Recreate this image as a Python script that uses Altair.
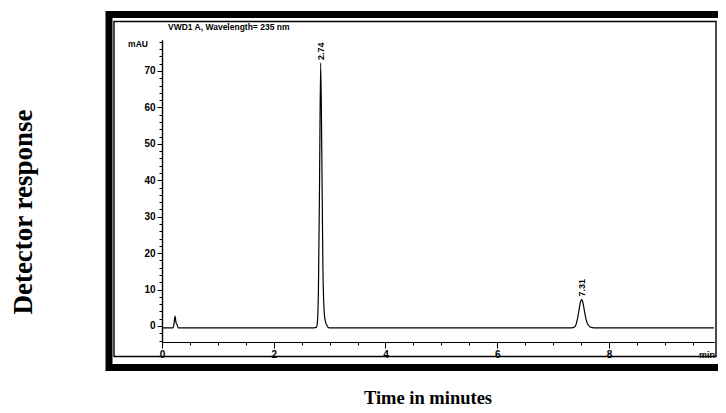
import altair as alt
import pandas as pd

# ---- data ----
time_min = [0.0, 0.19, 0.215, 0.233, 0.25, 0.27, 0.29,
            2.72, 2.76, 2.78, 2.80, 2.82, 2.84, 2.86, 2.88, 2.90, 2.92, 2.95, 2.99,
            7.33, 7.39, 7.43, 7.46, 7.49, 7.51, 7.53, 7.56, 7.59, 7.63, 7.68, 7.73,
            9.88]
signal_mau = [-0.5, -0.5, 0.6, 2.7, 1.0, 0.3, -0.5,
              -0.5, -0.4, 0.8, 10, 40, 72.2, 48, 16, 4.5, 1.5, 0.2, -0.5,
              -0.5, -0.2, 1.5, 4.0, 6.6, 7.25, 6.7, 4.2, 1.8, 0.2, -0.4, -0.5,
              -0.5]

peak_time = [2.84, 7.51]
peak_height = [72.2, 7.25]
peak_label = ["2.74", "7.31"]

x_minor_ticks = [i * 0.5 for i in range(20)]
x_major_ticks = [0, 2, 4, 6, 8]
y_minor_ticks = list(range(-4, 79, 2))
y_major_ticks = [0, 10, 20, 30, 40, 50, 60, 70]

header = "VWD1 A, Wavelength= 235 nm"
y_title = "Detector response"
x_title = "Time in minutes"

trace = pd.DataFrame({"t": time_min, "v": signal_mau})
peaks = pd.DataFrame({"t": peak_time, "v": peak_height, "lab": peak_label})
one = pd.DataFrame({"a": [0]})

W, H = 552, 302
AX_FONT = "Liberation Sans"
SERIF = "Liberation Serif"

xscale = alt.Scale(domain=[0, 9.88], nice=False, zero=False)
yscale = alt.Scale(domain=[-4.4, 78.5], nice=False, zero=False)

common = dict(grid=False, labelFlush=False, labelOverlap=False, labelFont=AX_FONT,
              labelFontWeight="bold", labelFontSize=10, labelColor="black",
              domainColor="black", domainWidth=1.2, tickColor="black", tickWidth=1)

x_minor = alt.Axis(values=x_minor_ticks, tickSize=3, labels=False, orient="bottom", **common)
y_minor = alt.Axis(values=y_minor_ticks, tickSize=3, labels=False, orient="left", **common)
x_major = alt.Axis(values=x_major_ticks, tickSize=6, labelPadding=1, format="d",
                   orient="bottom", **common)
y_major = alt.Axis(values=y_major_ticks, tickSize=5, labelPadding=2, format="d",
                   orient="left", **common)

line = alt.Chart(trace).mark_line(color="black", strokeWidth=1.2, interpolate="monotone").encode(
    x=alt.X("t:Q", scale=xscale, axis=x_minor, title=None),
    y=alt.Y("v:Q", scale=yscale, axis=y_minor, title=None),
)
major = alt.Chart(trace).mark_line(opacity=0).encode(
    x=alt.X("t:Q", scale=xscale, axis=x_major, title=None),
    y=alt.Y("v:Q", scale=yscale, axis=y_major, title=None),
)

labels = alt.Chart(peaks).mark_text(
    angle=270, align="left", baseline="middle", dx=3,
    font=AX_FONT, fontWeight="bold", fontSize=9, color="black",
).encode(
    x=alt.X("t:Q", scale=xscale, axis=None),
    y=alt.Y("v:Q", scale=yscale, axis=None),
    text="lab:N",
)

outer = alt.Chart(one).mark_rect(filled=False, stroke="black", strokeWidth=7).encode(
    x=alt.value(-53), x2=alt.value(580), y=alt.value(-25.5), y2=alt.value(327.5)
)
inner = alt.Chart(one).mark_rect(filled=False, stroke="black", strokeWidth=1.4).encode(
    x=alt.value(-48), x2=alt.value(554), y=alt.value(-18.5), y2=alt.value(316.5)
)

def txt(s, x, y, **kw):
    return alt.Chart(pd.DataFrame({"s": [s]})).mark_text(color="black", **kw).encode(
        x=alt.value(x), y=alt.value(y), text="s:N"
    )

t_header = txt(header, 6, -13, align="left", baseline="middle", font=AX_FONT,
               fontWeight="bold", fontSize=8.5)
t_mau = txt("mAU", -24, 4, align="center", baseline="middle", font=AX_FONT,
            fontWeight="bold", fontSize=8.5)
t_min = txt("min", 553, 315, align="right", baseline="middle", font=AX_FONT,
            fontWeight="bold", fontSize=9)
t_ytitle = txt(y_title, -138, 172, angle=270, align="center", baseline="middle",
               font=SERIF, fontWeight="bold", fontSize=27)
t_xtitle = txt(x_title, 266, 358, align="center", baseline="middle",
               font=SERIF, fontWeight="bold", fontSize=18.5)

chart = alt.layer(
    outer, inner, line, major, labels, t_header, t_mau, t_min, t_ytitle, t_xtitle
).resolve_axis(
    x="independent", y="independent"
).properties(
    width=W, height=H,
    autosize=alt.AutoSizeParams(type="none"),
    padding={"left": 154, "top": 32, "right": 4, "bottom": 71},
    background="white",
).configure_view(stroke="transparent")

chart.save("out.html", embed_options={"renderer": "svg", "actions": False})
